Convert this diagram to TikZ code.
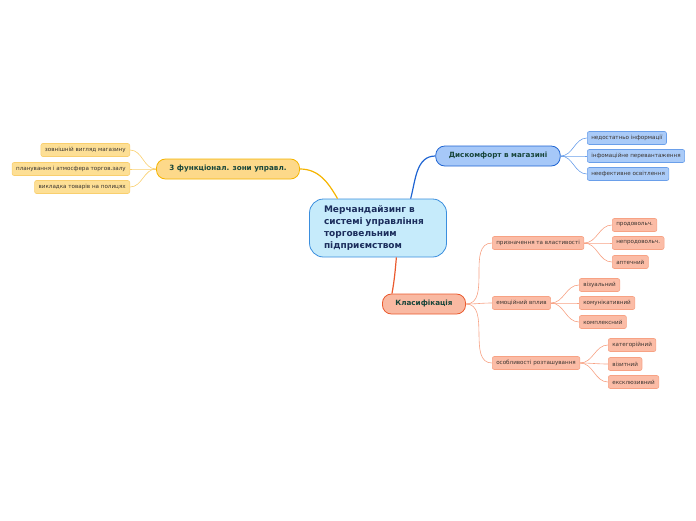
\documentclass[tikz,border=0pt]{standalone}
\usepackage{fontspec}
\setmainfont{DejaVu Sans}
\usetikzlibrary{positioning}

\definecolor{rootfill}{HTML}{C6EBFB}
\definecolor{rootline}{HTML}{3A8EDE}
\definecolor{roottext}{HTML}{1B2D5C}
\definecolor{topictext}{HTML}{17453A}
\definecolor{leaftext}{HTML}{3A3430}
\definecolor{bluefill}{HTML}{A6C8F8}
\definecolor{blueline}{HTML}{1E64D2}
\definecolor{blueleaf}{HTML}{AACBF8}
\definecolor{bluelight}{HTML}{6A9FEA}
\definecolor{yelfill}{HTML}{FDD98A}
\definecolor{yelline}{HTML}{F5B400}
\definecolor{yelleaf}{HTML}{FDDF95}
\definecolor{yellight}{HTML}{F9CF6E}
\definecolor{orafill}{HTML}{F9B9A2}
\definecolor{oraline}{HTML}{EA5A2E}
\definecolor{oraleaf}{HTML}{FBBCA6}
\definecolor{oralight}{HTML}{F7A284}

\tikzset{
  root/.style  = {draw=rootline, fill=rootfill, line width=0.8pt, rounded corners=14pt,
                  text=roottext, font=\fontsize{9}{11.7}\selectfont\bfseries,
                  align=left, text width=108pt, minimum width=137pt, minimum height=58pt},
  topic/.style = {line width=0.8pt, rounded corners=9pt, text=topictext,
                  font=\fontsize{7.2}{8}\selectfont\bfseries, minimum height=20pt, inner xsep=13pt},
  leaf/.style  = {line width=0.6pt, rounded corners=2pt, text=leaftext,
                  font=\fontsize{5.6}{6.5}\selectfont, minimum height=13pt, inner xsep=4pt},
  blueleaf/.style = {leaf, draw=bluelight, fill=blueleaf},
  yelleaf/.style  = {leaf, draw=yellight, fill=yelleaf},
  oraleaf/.style  = {leaf, draw=oralight, fill=oraleaf},
}

\begin{document}
\begin{tikzpicture}[x=1pt,y=1pt]
    \useasboundingbox (0,0) rectangle (696,-520);

    % root and main topics
    \node[root] (merch) at (378,-228)
      {Мерчандайзинг в\\системі управління\\торговельним\\підприємством};
    \node[topic,draw=blueline,fill=bluefill] (discomf) at (498,-156) {Дискомфорт в магазині};
    \node[topic,draw=yelline,fill=yelfill]   (zones)   at (228,-169) {3 функціонал. зони управл.};
    \node[topic,draw=oraline,fill=orafill]   (classif) at (424,-304) {Класифікація};

    % discomfort
    \node[blueleaf,anchor=west] (lackinfo) at (587,-138) {недостатньо інформації};
    \node[blueleaf,anchor=west] (overload) at (587,-156) {інфомаційне перевантаження};
    \node[blueleaf,anchor=west] (light)    at (587,-174) {неефективне освітлення};

    % zones
    \node[yelleaf,anchor=east] (outlook) at (130,-150) {зовнішній вигляд магазину};
    \node[yelleaf,anchor=east] (layout)  at (130,-169) {планування і атмосфера торгов.залу};
    \node[yelleaf,anchor=east] (display) at (130,-187) {викладка товарів на полицях};

    % classification
    \node[oraleaf,anchor=west] (purpose)  at (492,-243) {призначення та властивості};
    \node[oraleaf,anchor=west] (emotion)  at (492,-303) {емоційний вплив};
    \node[oraleaf,anchor=west] (placing)  at (492,-363) {особливості розташування};

    \node[oraleaf,anchor=west] (food)     at (612,-225) {продовольч.};
    \node[oraleaf,anchor=west] (nonfood)  at (612,-243) {непродовольч.};
    \node[oraleaf,anchor=west] (pharma)   at (612,-262) {аптечний};

    \node[oraleaf,anchor=west] (visual)   at (579,-285) {візуальний};
    \node[oraleaf,anchor=west] (commun)   at (579,-303) {комунікативний};
    \node[oraleaf,anchor=west] (complex)  at (579,-322) {комплексний};

    \node[oraleaf,anchor=west] (categ)    at (608,-345) {категорійний};
    \node[oraleaf,anchor=west] (visit)    at (608,-364) {візитний};
    \node[oraleaf,anchor=west] (exclus)   at (608,-382) {ексклюзивний};

    % connectors
    \path[line width=1.2pt]
      (merch.144) edge[draw=yelline,out=120,in=0]  (zones.east)
      (merch.42)  edge[draw=blueline,out=75,in=180] (discomf.west)
      (merch.-58) edge[draw=oraline,out=-95,in=80]  (classif.162);

    \path[line width=0.6pt,draw=bluelight]
      (discomf.east) edge[out=0,in=180] (lackinfo.west)
      (discomf.east) edge[out=0,in=180] (overload.west)
      (discomf.east) edge[out=0,in=180] (light.west);

    \path[line width=0.6pt,draw=yellight]
      (zones.west) edge[out=180,in=0] (outlook.east)
      (zones.west) edge[out=180,in=0] (layout.east)
      (zones.west) edge[out=180,in=0] (display.east);

    \path[line width=0.6pt,draw=oralight]
      (classif.east) edge[out=0,in=180] (purpose.west)
      (classif.east) edge[out=0,in=180] (emotion.west)
      (classif.east) edge[out=0,in=180] (placing.west)
      (purpose.east) edge[out=0,in=180] (food.west)
      (purpose.east) edge[out=0,in=180] (nonfood.west)
      (purpose.east) edge[out=0,in=180] (pharma.west)
      (emotion.east) edge[out=0,in=180] (visual.west)
      (emotion.east) edge[out=0,in=180] (commun.west)
      (emotion.east) edge[out=0,in=180] (complex.west)
      (placing.east) edge[out=0,in=180] (categ.west)
      (placing.east) edge[out=0,in=180] (visit.west)
      (placing.east) edge[out=0,in=180] (exclus.west);
\end{tikzpicture}
\end{document}
